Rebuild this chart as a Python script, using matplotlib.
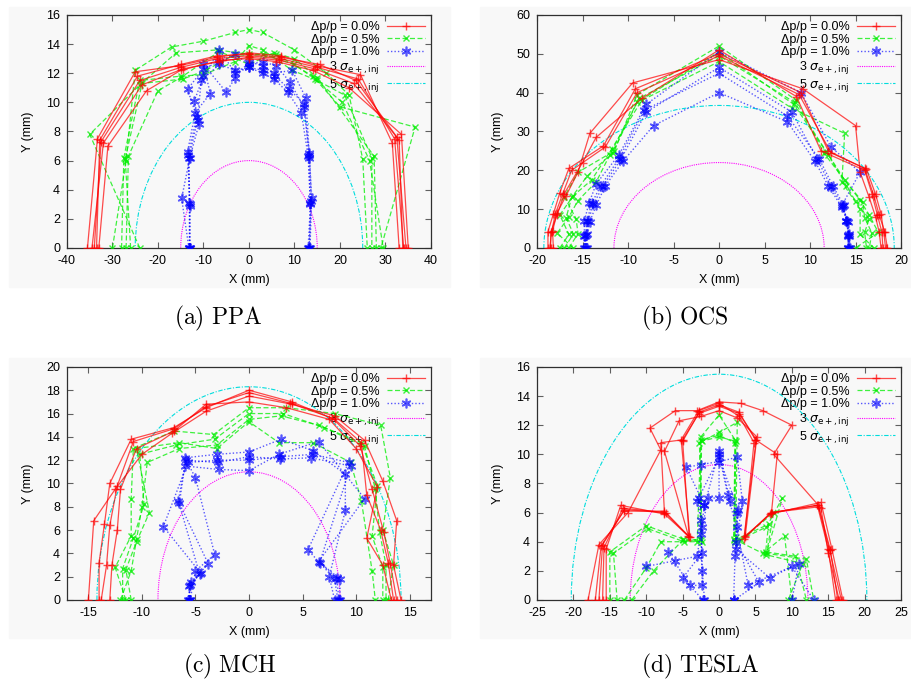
import matplotlib
matplotlib.use("Agg")
import matplotlib.pyplot as plt
from matplotlib.patches import Ellipse, Rectangle
from matplotlib.lines import Line2D

plt.rcParams['font.family'] = ['Liberation Sans', 'DejaVu Sans']
plt.rcParams['axes.unicode_minus'] = False

# ---- data: dynamic aperture scans, a few seeds per momentum offset ----
# (a) PPA
ppa_dp00 = [
    [(-34, 0), (-32.5, 7.3), (-24, 11.5), (-15, 12.4), (-7, 13.0), (0, 13.2), (7, 13.0), (15, 12.4), (24, 11.6), (32, 7.5), (34, 0)],
    [(-33, 0), (-31, 7.0), (-22.5, 10.8), (-15, 12.2), (-6, 12.9), (0, 13.0), (6, 12.8), (14, 12.2), (22, 11.0), (33.5, 7.8), (35, 0)],
    [(-35.5, 0), (-33.3, 7.5), (-25, 12.1), (-15.5, 12.5), (-7, 13.1), (0, 13.4), (7, 13.2), (15, 12.5), (24.5, 11.9), (31.5, 7.2), (33, 0)],
    [(-34.5, 0), (-32, 7.2), (-23.5, 11.2), (-14.5, 12.3), (-6.5, 12.8), (0, 13.1), (6.5, 12.9), (14.5, 12.3), (23, 11.3), (32.5, 7.6), (34.5, 0)],
    [(-33.5, 0), (-32.8, 7.4), (-24.5, 11.8), (-15, 12.6), (-7, 13.2), (0, 13.3), (7, 13.1), (15.5, 12.6), (23.5, 11.5), (33, 7.4), (33.8, 0)],
]
ppa_dp05 = [
    [(-28, 0), (-27.5, 6.2), (-24, 11.5), (-15, 11.8), (-10, 11.9), (-3, 12.8), (0, 13.9), (3, 13.6), (9.5, 12.2), (15, 11.5), (21, 10.5), (27, 6.2), (27, 0)],
    [(-30, 0), (-27, 6.0), (-25, 12.2), (-17, 13.8), (-10, 14.2), (-3, 14.8), (0, 15.0), (3, 14.8), (10, 13.6), (17, 12.0), (22, 10.5), (25, 6.1), (26, 0)],
    [(-24, 0), (-35, 7.8), (-24, 11.2), (-16, 13.4), (-7, 13.6), (0, 13.3), (6, 13.3), (14, 11.8), (20, 9.7), (36.5, 8.3), (29, 0)],
    [(-27, 0), (-26.5, 6.3), (-20, 10.8), (-15, 11.7), (-6.5, 13.5), (0, 12.6), (5.5, 13.4), (10, 13.0), (15, 11.7), (27.5, 6.3), (28, 0)],
    [(-26, 0), (-27.2, 6.1), (-23.5, 11.3), (-14.5, 11.6), (-9.5, 12.2), (-3, 13.3), (0, 13.2), (3, 13.3), (10, 12.6), (14.5, 11.6), (20.5, 10.0), (26.5, 6.0), (29.5, 0)],
]
ppa_dp10 = [
    [(-13, 0), (-13, 3.0), (-13.3, 6.4), (-11.5, 9.0), (-13.5, 10.9), (-10, 12.3), (-6.5, 12.8), (-3, 13.3), (0, 12.6), (3, 12.8), (6, 12.5), (9, 11.4), (12, 9.7), (13.3, 6.5), (13.7, 3.2), (13.2, 0)],
    [(-13.2, 0), (-14.8, 3.4), (-13, 6.2), (-11, 8.5), (-12, 10.1), (-10, 11.8), (-6.5, 13.6), (-3, 12.0), (0, 12.4), (3, 12.0), (5.5, 11.6), (8.5, 10.7), (11.5, 9.3), (13, 6.3), (13.5, 3.0), (13, 0)],
    [(-13, 0), (-13, 2.9), (-13.5, 6.6), (-11.8, 9.3), (-8.5, 10.6), (-10, 12.6), (-5, 10.7), (-3, 11.7), (0, 12.8), (3, 12.5), (5.5, 12.0), (9.5, 12.2), (12.5, 10.3), (13.3, 6.2), (13.8, 3.4), (13.4, 0)],
    [(-13.1, 0), (-13.1, 3.1), (-13.2, 6.2), (-11.3, 8.8), (-10.5, 11.5), (-6.5, 12.6), (-3, 12.2), (0, 12.4), (3, 12.2), (5.8, 11.8), (8.8, 10.9), (12.2, 9.9), (13.1, 6.4), (13.5, 3.1), (13.3, 0)],
]
ppa_sigma = [(15, 6), (25, 10)]

# (b) OCS
ocs_dp00 = [
    [(-18.8, 0), (-18.8, 4.2), (-18.2, 8.8), (-17.5, 14.2), (-16.5, 20.5), (-12.7, 26.3), (-9.2, 41), (0, 50), (9, 40), (12, 25), (16, 20.5), (17, 13.5), (17.6, 8.5), (18.2, 4.2), (18.5, 0)],
    [(-18.2, 0), (-18.3, 4.3), (-17.8, 9), (-16.8, 13.5), (-15.5, 19.5), (-14.2, 29.5), (-9.5, 42.5), (0, 48.5), (9.2, 41), (15, 31.5), (15.5, 19.5), (16.5, 13), (17.2, 8), (17.6, 4), (17.8, 0)],
    [(-18.5, 0), (-18.5, 4), (-17.8, 8.5), (-17, 14), (-15, 22), (-13.5, 28.5), (-8.5, 38.5), (0, 51), (8.5, 39), (11.2, 25), (16, 20), (16.8, 14), (17.4, 8.5), (17.9, 4), (18, 0)],
    [(-18.6, 0), (-18.4, 4.1), (-18, 8.7), (-17.2, 13.8), (-16.2, 20), (-12.5, 26), (-9, 40), (0, 49.5), (8.8, 39.5), (12.3, 24.5), (16.2, 20.3), (17.2, 13.8), (17.8, 8.8), (18.1, 4), (18.3, 0)],
]
ocs_dp05 = [
    [(-16.5, 0), (-15.5, 3.7), (-15.7, 7.5), (-17, 13.2), (-15.5, 19.5), (-11.5, 25), (-9, 39.5), (0, 52), (8.5, 38), (11.5, 24.5), (15.5, 12.3), (16.5, 8.5), (17.5, 4), (15, 0)],
    [(-17.5, 0), (-16.5, 3.5), (-17.5, 8.5), (-16, 13.5), (-14, 17.5), (-11.8, 25.5), (-8.5, 38), (0, 48), (8, 36), (13.8, 29.5), (13.5, 17), (15.5, 10), (15.5, 3.5), (17, 0)],
    [(-16, 0), (-17.8, 3.8), (-16.5, 8), (-15.5, 12.2), (-13.5, 17), (-12, 24), (-9, 37.5), (0, 50.5), (8.2, 37), (12, 24), (14, 16), (15, 12), (16.5, 7.5), (16, 4), (16.2, 0)],
    [(-17, 0), (-16, 3.6), (-16.8, 7.8), (-16.2, 13), (-14.5, 18.5), (-11.7, 24.5), (-8.8, 38.5), (0, 49.5), (8.3, 37.5), (11.8, 24.8), (13.8, 17.5), (15.8, 11.8), (16, 7.8), (16.8, 3.8), (16.5, 0)],
]
ocs_dp10 = [
    [(-14.7, 0), (-14.7, 3.2), (-14.5, 7), (-14.0, 11.5), (-13, 16), (-11, 23), (-8.2, 35.5), (0, 45), (7.5, 34), (11, 23), (12.5, 16), (13.7, 11), (14, 7), (14.2, 3.2), (14.2, 0)],
    [(-14.5, 0), (-14.5, 3.5), (-14.2, 6.8), (-13.5, 11), (-12.5, 16), (-10.5, 22.5), (-7.2, 31.5), (0, 40), (7.5, 32.5), (10.5, 22.5), (12, 16), (13.5, 10.5), (14.2, 6.8), (14.3, 3.5), (14.3, 0)],
    [(-14.8, 0), (-14.8, 3.2), (-14.8, 7), (-14.3, 11.5), (-13.5, 16.5), (-11, 24), (-8, 37), (0, 50.5), (9, 40), (12.3, 26), (15.5, 19.5), (13.5, 11), (14, 7), (14.3, 3), (14.4, 0)],
    [(-14.6, 0), (-14.6, 3.3), (-14.4, 6.9), (-13.8, 11.2), (-12.8, 15.8), (-10.8, 22.8), (-8, 35), (0, 46.5), (8, 35), (10.8, 22.8), (12.3, 15.8), (13.6, 10.8), (14.1, 6.9), (14.2, 3.3), (14.2, 0)],
]
ocs_sigma = [(11.55, 22), (19.25, 36.7)]

# (c) MCH
mch_dp00 = [
    [(-14, 0), (-14, 3.2), (-13.5, 6.5), (-13, 10), (-11, 13.8), (-7, 14.8), (-4, 16.5), (0, 18), (4, 17), (8, 15.5), (10.5, 13.5), (11, 9), (12.3, 6), (13, 3.2), (13.5, 0)],
    [(-13, 0), (-12.8, 3), (-12.3, 6), (-12, 9.5), (-10.5, 13), (-7, 14.5), (-4, 16.8), (0, 17), (3.5, 16.5), (7.5, 15.5), (10, 13), (12, 9.7), (11, 5.3), (12.5, 3), (13.3, 0)],
    [(-15, 0), (-14.5, 6.8), (-12.5, 9.5), (-10, 12.5), (-7.2, 14.3), (-4, 16.2), (0, 17.5), (4, 16.8), (8, 15.8), (10.8, 13.7), (12.5, 10.2), (13.8, 6.8), (13.5, 3), (14.2, 0)],
    [(-13.8, 0), (-13.3, 3), (-13, 6.4), (-12.3, 9.8), (-10.8, 13.6), (-7, 14.7), (-4, 16.6), (0, 17.8), (3.8, 16.9), (7.8, 15.6), (10.4, 13.2), (11.5, 9.5), (12.6, 5.8), (13.2, 3.1), (13.8, 0)],
]
mch_dp05 = [
    [(-12, 0), (-11, 2.5), (-10.5, 5.2), (-10, 8), (-9.5, 11.8), (-6.5, 13), (-3, 13.3), (0, 15.5), (3, 15.8), (6.5, 15), (10.5, 13.5), (12, 9.8), (11.5, 5.5), (12.5, 2.8), (12.5, 0)],
    [(-11.5, 0), (-12.5, 2.8), (-11, 5.5), (-11, 8.7), (-10.8, 13), (-7, 14.5), (-3.3, 14.2), (0, 16.5), (3.5, 16.5), (8, 16), (12.3, 15), (13.2, 10.5), (12.5, 6), (13.5, 3), (13, 0)],
    [(-11, 0), (-11.5, 2.6), (-10.5, 5), (-9.3, 7.5), (-10.5, 13), (-6.5, 13.5), (-3, 13), (0, 15.3), (2.8, 13.5), (6, 13.5), (9.5, 11.8), (10.5, 8.5), (11.5, 2.5), (11.8, 0)],
    [(-11.8, 0), (-11.8, 2.7), (-10.8, 5.3), (-9.8, 8.2), (-10.2, 12.5), (-6.8, 13.3), (-3.2, 13.8), (0, 16.0), (3.2, 16.0), (7, 14.8), (10.8, 13.2), (11.8, 9.5), (12.2, 5.8), (12.8, 3.0), (12.8, 0)],
]
mch_dp10 = [
    [(-5.5, 0), (-5.6, 1.2), (-4.5, 2.3), (-8, 6.3), (-5.7, 11.8), (-3, 12), (0, 12), (3, 12.3), (6, 12.5), (9.3, 11.8), (5.5, 4.3), (8, 1.8), (8.3, 0)],
    [(-5.7, 0), (-5.4, 1.5), (-3.8, 3.1), (-6.5, 8.3), (-6, 11.5), (-2.8, 11.2), (0, 11.1), (2.8, 12.5), (6.5, 13.6), (10.8, 8.7), (6.5, 3.3), (8.5, 1.8), (8.5, 0)],
    [(-5.5, 0), (-5, 2.5), (-3.2, 3.9), (-5, 10.5), (-6, 12.2), (-3, 12.5), (0, 12.7), (3, 13.8), (6, 12.8), (9, 10.8), (9, 7.7), (7.5, 2), (8, 0)],
    [(-5.6, 0), (-5.5, 1.3), (-4.6, 2.2), (-6.6, 8.5), (-5.9, 12.0), (-2.9, 11.8), (0, 12.3), (2.9, 12.1), (5.8, 12.2), (9.5, 11.5), (6.6, 3.2), (8.2, 1.9), (8.4, 0)],
]
mch_sigma = [(8.5, 11), (14.2, 18.3)]

# (d) TESLA
tesla_dp00 = [
    [(-16.5, 0), (-16, 3.8), (-13, 6.2), (-7.5, 6), (-8, 10.8), (-5, 11), (-2.8, 12.8), (0, 13.3), (2.8, 12.8), (5, 11), (8, 10), (7.2, 6), (13.5, 6.5), (15, 3.5), (16, 0)],
    [(-15.5, 0), (-15.5, 3.5), (-13.5, 6.5), (-7.5, 5.9), (-4, 4.3), (-5.2, 11), (-2.8, 13), (0, 13.5), (2.8, 12.6), (4.8, 10.8), (3.5, 4.3), (7, 5.9), (14, 6.7), (15.5, 3.5), (17, 0)],
    [(-18, 0), (-16.5, 3.8), (-12.5, 6), (-8, 10.3), (-9.5, 11.8), (-6, 13), (-3, 13), (0, 13.6), (3, 13.5), (6, 13), (10, 12), (7.5, 10), (14, 6.3), (15, 3.2), (16.5, 0)],
    [(-16, 0), (-15.8, 3.6), (-13.2, 6.3), (-7.3, 6.0), (-4.2, 4.4), (-7.5, 10.2), (-5.5, 12.3), (-2.5, 12.6), (0, 13.0), (2.5, 12.5), (5.2, 11.2), (3.6, 4.4), (7.3, 6.0), (13.7, 6.4), (15.3, 3.4), (16.3, 0)],
    [(-17, 0), (-16.2, 3.7), (-13.1, 6.1), (-7.6, 6.1), (-4.1, 4.3), (-5.0, 10.9), (-2.7, 12.9), (0, 13.4), (2.7, 12.9), (5.1, 11.0), (3.4, 4.2), (7.1, 6.0), (13.6, 6.5), (15.2, 3.4), (16.8, 0)],
]
tesla_dp05 = [
    [(-15, 0), (-15, 3.3), (-10, 5.1), (-5, 4.2), (-2.5, 4.1), (-2.5, 11), (0, 11.3), (2.2, 10.8), (2.2, 4), (6.5, 5), (8.7, 7), (6.5, 3.2), (12, 2.8), (13, 0)],
    [(-13, 0), (-10, 2.2), (-8, 4), (-3, 4), (-2.5, 11.2), (0, 12.7), (2.2, 11), (2, 4.2), (6, 3.2), (9, 4.4), (10, 0)],
    [(-12, 0), (-9, 2), (-5, 4.1), (-2.3, 4), (-2.7, 10.8), (0, 11.5), (2.5, 12.2), (2.3, 4.3), (3, 4.1), (7.5, 6), (6.5, 3.1), (11.5, 2.5), (9.5, 0)],
    [(-14, 0), (-14.5, 3.2), (-9.8, 4.9), (-4.8, 4.0), (-2.6, 4.2), (-2.4, 10.9), (0, 11.2), (2.3, 10.9), (2.1, 4.1), (6.8, 5.2), (6.4, 3.3), (10.5, 3.0), (12, 0)],
]
tesla_dp10 = [
    [(-2, 0), (-2.3, 2), (-2.5, 5.5), (-3, 6.8), (-2, 6.5), (0, 10.2), (1.5, 6.8), (2.5, 6), (2.2, 3), (2, 0)],
    [(-10, 2.3), (-6, 2.7), (-3, 3), (-2, 6.5), (-4.5, 9.1), (-2.5, 9.3), (0, 9.5), (2.5, 9.8), (3.2, 6.8), (2.3, 3.5), (7, 1.5), (10, 2.3), (13, 0)],
    [(-7, 3.3), (-4, 1), (-2.3, 1), (-2.5, 4.5), (-1.5, 7), (0, 7), (0, 10), (1.2, 7.2), (2.4, 5), (4, 1), (11, 2.5), (10, 0)],
    [(-2.2, 0), (-5, 1.5), (-2.4, 3.2), (-2.3, 5.0), (-2.8, 7.0), (0, 9.8), (2.6, 6.2), (2.3, 4.0), (5.5, 1.2), (2.1, 0)],
]
tesla_sigma = [(12.2, 9.3), (20.3, 15.5)]

panels = [
    ("(a)\\ PPA", ppa_dp00, ppa_dp05, ppa_dp10, ppa_sigma, (-40, 40), (0, 16), range(-40, 41, 10), range(0, 17, 2)),
    ("(b)\\ OCS", ocs_dp00, ocs_dp05, ocs_dp10, ocs_sigma, (-20, 20), (0, 60), range(-20, 21, 5), range(0, 61, 10)),
    ("(c)\\ MCH", mch_dp00, mch_dp05, mch_dp10, mch_sigma, (-17, 17), (0, 20), range(-15, 16, 5), range(0, 21, 2)),
    ("(d)\\ TESLA", tesla_dp00, tesla_dp05, tesla_dp10, tesla_sigma, (-25, 25), (0, 16), range(-25, 26, 5), range(0, 17, 2)),
]

labels = ["\u0394p/p = 0.0%", "\u0394p/p = 0.5%", "\u0394p/p = 1.0%",
          "3 $\\sigma_{\\rm e+,inj}$", "5 $\\sigma_{\\rm e+,inj}$"]

# layout (figure fractions)
ax_pos = [[0.0735, 0.6385, 0.3996, 0.3397], [0.5895, 0.6385, 0.3996, 0.3397],
          [0.0735, 0.1254, 0.3996, 0.3397], [0.5895, 0.1254, 0.3996, 0.3397]]
bg_pos = [[0.0099, 0.5816, 0.484, 0.408], [0.527, 0.5816, 0.473, 0.408],
          [0.0099, 0.070, 0.484, 0.408], [0.527, 0.070, 0.473, 0.408]]
cap_pos = [(0.239, 0.536), (0.752, 0.536), (0.252, 0.028), (0.768, 0.028)]

bg = '#f8f8f8'
red_style = dict(color='#ff0000', ls='-', lw=0.9, alpha=0.7, marker='+', ms=6, mew=1.0)
green_style = dict(color='#00ee00', ls=(0, (4, 2)), lw=0.9, alpha=0.75, marker='x', ms=5, mew=1.0)
blue_style = dict(color='#0000ff', ls=(0, (1, 1.5)), lw=1.0, alpha=0.65, marker=(6, 2, 0), ms=7, mew=1.2)

fig = plt.figure(figsize=(9.11, 6.86), dpi=100)

for k, (cap, dp00, dp05, dp10, sig, xl, yl, xt, yt) in enumerate(panels):
    fig.add_artist(Rectangle(bg_pos[k][:2], bg_pos[k][2], bg_pos[k][3],
                             transform=fig.transFigure, color=bg, zorder=0))
    ax = fig.add_axes(ax_pos[k])
    ax.set_facecolor(bg)

    for seed in dp00:
        xs, ys = zip(*seed)
        ax.plot(xs, ys, zorder=4, **red_style)
    for seed in dp05:
        xs, ys = zip(*seed)
        ax.plot(xs, ys, zorder=3, **green_style)
    for seed in dp10:
        xs, ys = zip(*seed)
        ax.plot(xs, ys, zorder=3, **blue_style)

    a3, b3 = sig[0]
    a5, b5 = sig[1]
    ax.add_patch(Ellipse((0, 0), 2 * a3, 2 * b3, fill=False, ec='#ff00ff',
                         ls=(0, (1, 1)), lw=0.8, zorder=2))
    ax.add_patch(Ellipse((0, 0), 2 * a5, 2 * b5, fill=False, ec='#00dddd',
                         ls=(0, (4, 1.5, 1, 1.5)), lw=0.8, zorder=2))

    handles = [
        Line2D([], [], **red_style),
        Line2D([], [], **green_style),
        Line2D([], [], **blue_style),
        Line2D([], [], color='#ff00ff', ls=(0, (1, 1)), lw=0.8),
        Line2D([], [], color='#00dddd', ls=(0, (4, 1.5, 1, 1.5)), lw=0.8),
    ]
    leg = ax.legend(handles, labels, loc='upper right', frameon=False, markerfirst=False,
                    fontsize=9, handlelength=3.0, handletextpad=0.6, labelspacing=0.05,
                    borderaxespad=0.3, borderpad=0.2)
    leg.set_zorder(1)

    ax.set_xlim(*xl)
    ax.set_ylim(*yl)
    ax.set_xticks(list(xt))
    ax.set_yticks(list(yt))
    ax.tick_params(direction='in', top=True, right=True, length=4, width=0.8,
                   color='#606060', labelsize=9, pad=5)
    for sp in ax.spines.values():
        sp.set_color('#303030')
        sp.set_linewidth(0.9)
    ax.set_xlabel('X (mm)', fontsize=9, labelpad=5)
    ax.set_ylabel('Y (mm)', fontsize=9, labelpad=9)

    fig.text(cap_pos[k][0], cap_pos[k][1], '$\\mathrm{' + cap + '}$', ha='center', va='center',
             fontsize=17, math_fontfamily='cm')

fig.savefig('out.png', dpi=100, facecolor='white')
